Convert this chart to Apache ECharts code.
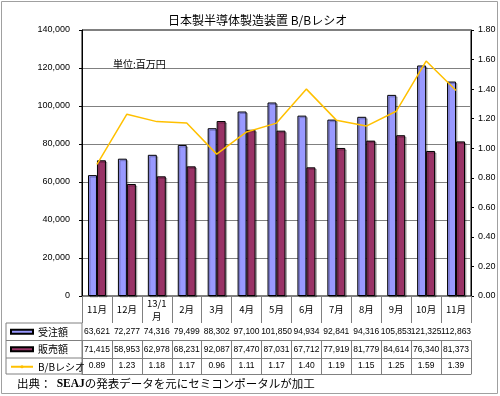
<!DOCTYPE html>
<html>
<head>
<meta charset="utf-8">
<script src="https://cdn.jsdelivr.net/npm/echarts@6/dist/echarts.min.js"></script>
<style>html,body{margin:0;padding:0;background:#fff}#c{width:500px;height:396px}</style>
</head>
<body>
<div id="c"></div>
<script>
var categories = ['11月', '12月', '13/1\n月', '2月', '3月', '4月', '5月', '6月', '7月', '8月', '9月', '10月', '11月'];
var orders = [63621, 72277, 74316, 79499, 88302, 97100, 101850, 94934, 92841, 94316, 105853, 121325, 112863];
var sales = [71415, 58953, 62978, 68231, 92087, 87470, 87031, 67712, 77919, 81779, 84614, 76340, 81373];
var bbRatio = [0.89, 1.23, 1.18, 1.17, 0.96, 1.11, 1.17, 1.40, 1.19, 1.15, 1.25, 1.59, 1.39];
var seriesNames = ['受注額', '販売額', 'B/Bレシオ'];
var titleText = '日本製半導体製造装置 B/Bレシオ';
var unitText = '単位:百万円';

var FONT = 'Liberation Sans, Arial, Noto Sans CJK JP, sans-serif';
var GRID = '#808080';
function fmt(v){ return v.toLocaleString('en-US'); }

var chart = echarts.init(document.getElementById('c'), null, {renderer: 'canvas'});

function rowAxis(values, offset, len, lineShow) {
  return {
    type: 'category', gridIndex: 0, position: 'bottom', offset: offset,
    data: values,
    axisLine: {show: lineShow, lineStyle: {color: GRID, width: 1}},
    axisTick: {show: len > 0, length: len, interval: 0, lineStyle: {color: GRID, width: 1}},
    axisLabel: {show: len > 0, interval: 0, margin: len / 2, verticalAlign: 'middle',
      fontSize: 8.5, color: '#000', fontFamily: FONT},
    splitLine: {show: false}
  };
}

var option = {
  backgroundColor: '#fff',
  animation: false,
  textStyle: {fontFamily: FONT},
  title: [
    {text: titleText, left: 163, top: 9, textStyle: {fontSize: 12, fontWeight: 'normal', color: '#000', fontFamily: 'Noto Sans CJK JP, sans-serif'}},
    {text: unitText, left: 108, top: 54, textStyle: {fontSize: 10, fontWeight: 'normal', color: '#000', fontFamily: 'Noto Sans CJK JP, sans-serif'}}
  ],
  grid: {left: 82, right: 29, top: 30, bottom: 100, show: true, borderColor: '#000', borderWidth: 1, outerBoundsMode: 'none', containLabel: false},
  legend: {
    orient: 'vertical', left: 5, top: 320.75, padding: 5,
    itemWidth: 22, itemHeight: 4, itemGap: 5.5,
    data: [{name: seriesNames[0], icon: 'rect'}, {name: seriesNames[1], icon: 'rect'}, {name: seriesNames[2]}],
    textStyle: {fontSize: 10, lineHeight: 12, color: '#000', fontFamily: 'Noto Sans CJK JP, sans-serif'}
  },
  xAxis: [
    {
      type: 'category', gridIndex: 0, position: 'bottom', data: categories,
      axisLine: {show: true, lineStyle: {color: '#000', width: 1}},
      axisTick: {show: true, length: 27, interval: 0, lineStyle: {color: GRID, width: 1}},
      axisLabel: {interval: 0, margin: 13.5, verticalAlign: 'middle', fontSize: 9.5, lineHeight: 13, color: '#000', fontFamily: 'Noto Sans CJK JP, sans-serif'},
      splitLine: {show: false}
    },
    rowAxis(orders.map(fmt), 27, 17.5, true),
    rowAxis(sales.map(fmt), 44.5, 17.5, true),
    rowAxis(bbRatio.map(function(v){return v.toFixed(2);}), 62, 16, true),
    rowAxis(categories.map(function(){return '';}), 78, 0, true)
  ],
  yAxis: [
    {
      type: 'value', min: 0, max: 140000, interval: 20000, position: 'left',
      axisLine: {show: true, lineStyle: {color: '#000'}},
      axisTick: {show: true, length: 3, lineStyle: {color: '#000'}},
      axisLabel: {fontSize: 9, color: '#000', margin: 12, formatter: function(v){return fmt(v);}},
      splitLine: {show: true, lineStyle: {color: GRID, width: 1}}
    },
    {
      type: 'value', min: 0, max: 1.8, interval: 0.2, position: 'right',
      axisLine: {show: true, lineStyle: {color: '#000'}},
      axisTick: {show: true, length: 3, lineStyle: {color: '#000'}},
      axisLabel: {fontSize: 9, color: '#000', margin: 7, formatter: function(v){return v.toFixed(2);}},
      splitLine: {show: false}
    }
  ],
  series: [
    {
      name: seriesNames[0], type: 'bar', xAxisIndex: 0, yAxisIndex: 0, data: orders,
      barGap: '0%', barCategoryGap: '40%',
      itemStyle: {color: '#9999FF', borderColor: '#000', borderWidth: 1,
        shadowColor: 'rgba(0,0,0,0.25)', shadowOffsetX: 1.5, shadowOffsetY: 1.5, shadowBlur: 0}
    },
    {
      name: seriesNames[1], type: 'bar', xAxisIndex: 0, yAxisIndex: 0, data: sales,
      barGap: '0%', barCategoryGap: '40%',
      itemStyle: {color: '#993366', borderColor: '#000', borderWidth: 1,
        shadowColor: 'rgba(0,0,0,0.25)', shadowOffsetX: 1.5, shadowOffsetY: 1.5, shadowBlur: 0}
    },
    {
      name: seriesNames[2], type: 'line', xAxisIndex: 0, yAxisIndex: 1, data: bbRatio,
      symbol: 'none', showSymbol: false, z: 5,
      itemStyle: {color: '#FFC000'},
      lineStyle: {color: '#FFC000', width: 1.5}
    }
  ],
  graphic: [
    {type: 'rect', shape: {x: 1.5, y: 1.5, width: 496, height: 392}, style: {fill: 'none', stroke: '#a0a0a0', lineWidth: 1}, silent: true, z: -1},
    {type: 'line', shape: {x1: 6, y1: 323, x2: 82, y2: 323}, style: {stroke: GRID, lineWidth: 1}, silent: true},
    {type: 'line', shape: {x1: 6, y1: 340.5, x2: 82, y2: 340.5}, style: {stroke: GRID, lineWidth: 1}, silent: true},
    {type: 'line', shape: {x1: 6, y1: 358, x2: 82, y2: 358}, style: {stroke: GRID, lineWidth: 1}, silent: true},
    {type: 'line', shape: {x1: 6, y1: 374, x2: 82, y2: 374}, style: {stroke: GRID, lineWidth: 1}, silent: true},
    {type: 'line', shape: {x1: 6, y1: 323, x2: 6, y2: 374}, style: {stroke: GRID, lineWidth: 1}, silent: true},
    {type: 'line', shape: {x1: 82, y1: 323, x2: 82, y2: 374}, style: {stroke: GRID, lineWidth: 1}, silent: true},
    {
      type: 'text', left: 17, top: 378, silent: true,
      style: {
        text: '{a|出典：  }{b|SEAJ}{a|の発表データを元にセミコンポータルが加工}',
        rich: {
          a: {fontSize: 11.5, fontFamily: 'Noto Sans CJK JP, sans-serif', fill: '#000'},
          b: {fontSize: 11.5, fontFamily: 'Liberation Serif, serif', fontWeight: 'bold', fill: '#000'}
        }
      }
    }
  ]
};
chart.setOption(option);
</script>
</body>
</html>
